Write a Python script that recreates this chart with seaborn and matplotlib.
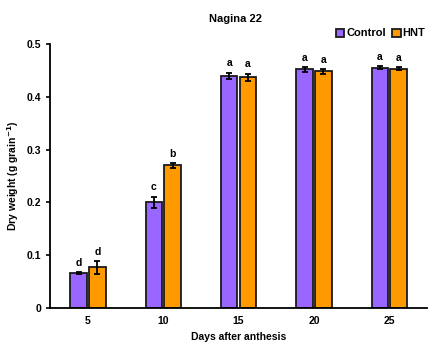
import matplotlib
matplotlib.use('Agg')
import matplotlib.pyplot as plt
import seaborn as sns
import pandas as pd

days = ['5', '10', '15', '20', '25']
control = [0.066, 0.200, 0.440, 0.452, 0.455]
hnt = [0.077, 0.270, 0.437, 0.448, 0.453]
control_err = [0.002, 0.011, 0.006, 0.005, 0.003]
hnt_err = [0.012, 0.005, 0.007, 0.005, 0.003]
control_letters = ['d', 'c', 'a', 'a', 'a']
hnt_letters = ['d', 'b', 'a', 'a', 'a']

df = pd.DataFrame({
    'day': days * 2,
    'value': control + hnt,
    'treatment': ['Control'] * 5 + ['HNT'] * 5,
})

sns.set_style('white')
plt.rcParams['font.family'] = ['Liberation Sans', 'DejaVu Sans']
plt.rcParams['font.weight'] = 'bold'
plt.rcParams['text.color'] = 'black'
plt.rcParams['axes.labelcolor'] = 'black'
plt.rcParams['xtick.color'] = 'black'
plt.rcParams['ytick.color'] = 'black'

fig = plt.figure(figsize=(4.37, 3.44), dpi=100)
ax = fig.add_axes([0.115, 0.105, 0.862, 0.767])

sns.barplot(data=df, x='day', y='value', hue='treatment',
            palette={'Control': '#9966FF', 'HNT': '#FF9900'}, saturation=1,
            width=0.5, gap=0.12, errorbar=None,
            edgecolor='#1a1a1a', linewidth=1.3, ax=ax)

errs = [control_err, hnt_err]
letters = [control_letters, hnt_letters]
bar_containers = list(ax.containers)
for k, cont in enumerate(bar_containers):
    for i, bar in enumerate(cont):
        xc = bar.get_x() + bar.get_width() / 2
        h = bar.get_height()
        ax.errorbar(xc, h, yerr=errs[k][i], color='black', capsize=2,
                    elinewidth=1.3, capthick=1.3)
        ax.text(xc, h + errs[k][i] + 0.008, letters[k][i], ha='center',
                va='bottom', fontsize=7.5, fontweight='bold')

ax.set_xlim(-0.5, 4.5)
ax.set_ylim(0, 0.5)
ax.set_yticks([0, 0.1, 0.2, 0.3, 0.4, 0.5])
ax.set_yticklabels(['0', '0.1', '0.2', '0.3', '0.4', '0.5'])
ax.tick_params(axis='y', length=3, width=1.2, direction='out', labelsize=7.5, left=True)
ax.tick_params(axis='x', length=0, labelsize=7.5, pad=6)
for lab in ax.get_xticklabels() + ax.get_yticklabels():
    lab.set_fontweight('bold')
sns.despine(ax=ax)
ax.spines['left'].set_linewidth(1.3)
ax.spines['bottom'].set_linewidth(1.3)
ax.spines['left'].set_color('black')
ax.spines['bottom'].set_color('black')

ax.set_xlabel('Days after anthesis', fontsize=7.5, fontweight='bold', labelpad=4)
ax.set_ylabel('Dry weight (g grain$^{\\mathbf{-1}}$)', fontsize=7.5, fontweight='bold', labelpad=4)
fig.text(0.54, 0.935, 'Nagina 22', ha='center', fontsize=8, fontweight='bold')

ax.legend(loc='lower right', bbox_to_anchor=(1.01, 1.0), ncol=2, frameon=False,
          handlelength=0.75, handleheight=0.75, handletextpad=0.15, columnspacing=0.6,
          borderpad=0, prop={'size': 8, 'weight': 'bold'})

fig.savefig('out.png', dpi=100)
